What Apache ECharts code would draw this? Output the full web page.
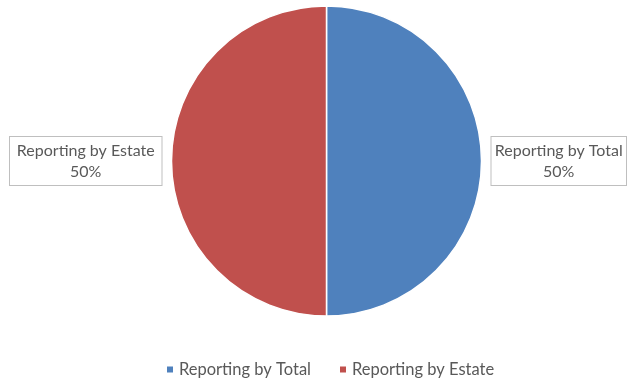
<!DOCTYPE html>
<html><head><meta charset="utf-8">
<script src="https://cdn.jsdelivr.net/npm/echarts@6/dist/echarts.min.js"></script>
<style>html,body{margin:0;padding:0;background:#fff}#c{width:636px;height:382px}</style>
</head><body><div id="c"></div>
<script>
const categories = ["Reporting by Total", "Reporting by Estate"];
const values = [50, 50];
const colors = ["#4F81BD", "#C0504D"];

const chart = echarts.init(document.getElementById('c'), null, {renderer: 'canvas'});
chart.setOption({
  animation: false,
  color: colors,
  legend: {
    top: 356,
    left: 160,
    icon: 'rect',
    itemWidth: 8,
    itemHeight: 8,
    itemGap: 27,
    textStyle: {color: '#595959', fontSize: 16.5, fontFamily: 'Lato'},
    data: categories
  },
  series: [{
    type: 'pie',
    center: [326.5, 161],
    radius: [0, 155],
    startAngle: 90,
    clockwise: true,
    itemStyle: {borderColor: '#fff', borderWidth: 1.5},
    label: {
      show: true,
      position: 'outside',
      formatter: '{t|{b}}\n{t|{d}%}',
      color: '#595959',
      fontSize: 16,
      fontFamily: 'Lato',
      backgroundColor: '#fff',
      borderColor: '#BFBFBF',
      borderWidth: 1,
      padding: [3, 8, 3, 8],
      distanceToLabelLine: 0,
      overflow: 'none',
      rich: {
        t: {fontSize: 16, fontFamily: 'Lato', color: '#595959', lineHeight: 21, align: 'center', width: 140}
      }
    },
    labelLine: {show: false, length: 10, length2: 0},
    data: categories.map((n, i) => ({name: n, value: values[i]}))
  }]
});
</script></body></html>
